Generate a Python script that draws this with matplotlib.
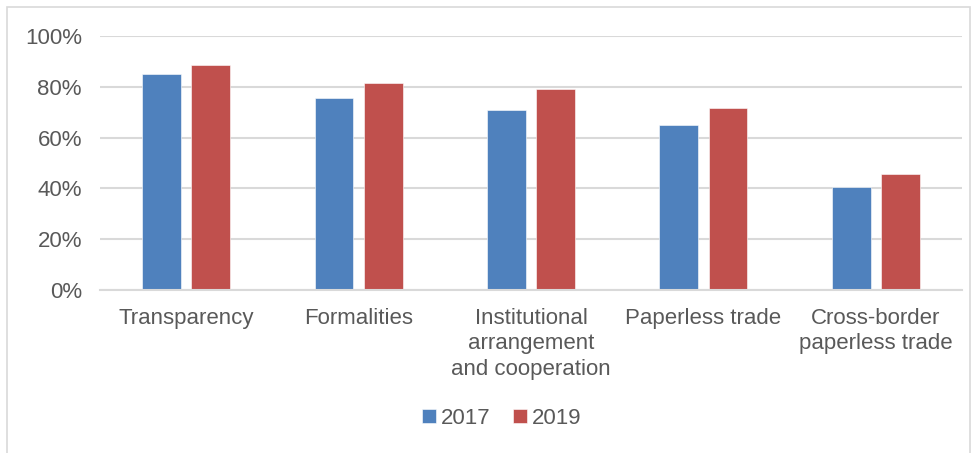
import matplotlib
matplotlib.use("Agg")
import matplotlib.pyplot as plt
import numpy as np
from matplotlib.patches import Rectangle

categories = ["Transparency", "Formalities", "Institutional\narrangement\nand cooperation",
              "Paperless trade", "Cross-border\npaperless trade"]
v2017 = [85.0, 75.7, 70.7, 65.1, 40.7]
v2019 = [88.6, 81.5, 79.1, 71.8, 45.8]
series_names = ["2017", "2019"]
yticks = [0, 20, 40, 60, 80, 100]
ytick_labels = ["0%", "20%", "40%", "60%", "80%", "100%"]

blue = "#4F81BD"
red = "#C0504D"
txt = "#595959"
grid = "#D9D9D9"

plt.rcParams['font.family'] = ['Liberation Sans', 'DejaVu Sans']

fig = plt.figure(figsize=(9.76, 4.53), dpi=100)
ax = fig.add_axes([100/976, 1 - 290/453, 862/976, 254/453])

x = np.arange(len(categories))
w = 0.225
gap = 0.06
ax.bar(x - (w + gap) / 2, v2017, w, color=blue, edgecolor="white", linewidth=0.4, label=series_names[0], zorder=3)
ax.bar(x + (w + gap) / 2, v2019, w, color=red, edgecolor="white", linewidth=0.4, label=series_names[1], zorder=3)

ax.set_xlim(-0.5, len(categories) - 0.5)
ax.set_ylim(0, 100)
ax.set_yticks(yticks)
ax.set_yticklabels(ytick_labels)
ax.set_xticks(x)
ax.set_xticklabels(categories, linespacing=1.27)
ax.tick_params(axis='both', length=0, labelsize=16, colors=txt)
ax.tick_params(axis='y', pad=13)
ax.tick_params(axis='x', pad=13)
ax.yaxis.grid(True, color=grid, linewidth=1.5, zorder=0)
for s in ["top", "right", "left"]:
    ax.spines[s].set_visible(False)
ax.spines["bottom"].set_color(grid)
ax.spines["bottom"].set_linewidth(1.5)
ax.spines["bottom"].set_zorder(4)

leg = fig.legend(loc="center", bbox_to_anchor=(502/976, 1 - 418/453), ncol=2, frameon=False,
                 fontsize=16, handlelength=0.6, handleheight=0.6, handletextpad=0.25,
                 columnspacing=1.0, labelcolor=txt)

fig.patches.append(Rectangle((7/976, -0.1), 963/976, 1 - 7/453 + 0.1, transform=fig.transFigure,
                             fill=False, edgecolor="#D9D9D9", linewidth=1.2))

fig.savefig("out.png", dpi=100, facecolor="white")
